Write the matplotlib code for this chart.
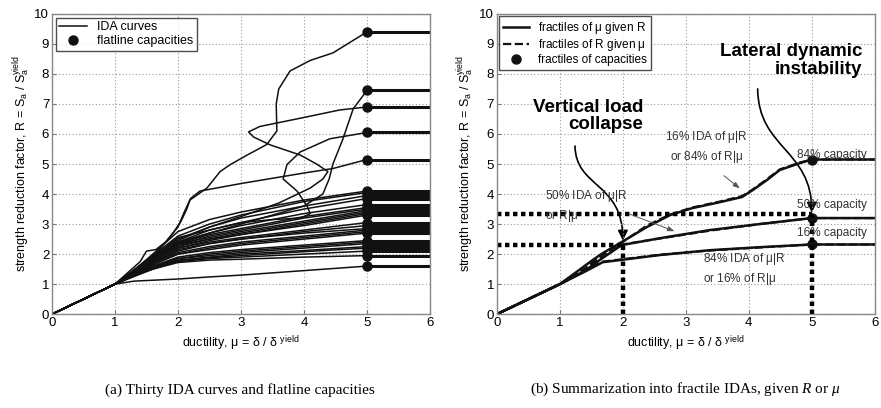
import matplotlib.pyplot as plt
from matplotlib.path import Path
from matplotlib.patches import FancyArrowPatch

plt.rcParams['font.family'] = ['Liberation Sans', 'DejaVu Sans']
plt.rcParams['mathtext.fontset'] = 'custom'
plt.rcParams['mathtext.rm'] = 'Liberation Sans'
plt.rcParams['mathtext.it'] = 'Liberation Serif:italic'

# ---- left panel data: thirty IDA curves (mu, R) ----
mu_grid = [0, 1, 1.3, 1.6, 2.0, 2.5, 3.0, 4.0, 5.0]
bundle_R = [
    [0, 1, 1.45, 2.00, 2.75, 3.15, 3.40, 3.80, 4.10],
    [0, 1, 1.45, 1.95, 2.60, 3.00, 3.30, 3.75, 4.05],
    [0, 1, 1.40, 1.90, 2.50, 2.90, 3.20, 3.60, 3.95],
    [0, 1, 1.40, 1.90, 2.55, 2.80, 3.05, 3.50, 3.85],
    [0, 1, 1.40, 1.85, 2.40, 2.70, 2.95, 3.35, 3.65],
    [0, 1, 1.40, 1.85, 2.35, 2.65, 2.85, 3.25, 3.55],
    [0, 1, 1.38, 1.80, 2.30, 2.60, 2.80, 3.20, 3.50],
    [0, 1, 1.38, 1.85, 2.35, 2.55, 2.75, 3.10, 3.45],
    [0, 1, 1.38, 1.80, 2.25, 2.50, 2.70, 3.05, 3.40],
    [0, 1, 1.35, 1.75, 2.20, 2.45, 2.65, 3.00, 3.35],
    [0, 1, 1.35, 1.80, 2.30, 2.50, 2.65, 2.95, 3.30],
    [0, 1, 1.35, 1.75, 2.20, 2.40, 2.55, 2.80, 3.05],
    [0, 1, 1.35, 1.70, 2.10, 2.35, 2.50, 2.75, 2.95],
    [0, 1, 1.33, 1.70, 2.15, 2.35, 2.50, 2.70, 2.85],
    [0, 1, 1.33, 1.70, 2.05, 2.25, 2.40, 2.60, 2.80],
    [0, 1, 1.33, 1.65, 2.00, 2.20, 2.35, 2.55, 2.75],
    [0, 1, 1.30, 1.65, 2.00, 2.15, 2.30, 2.50, 2.70],
    [0, 1, 1.30, 1.60, 1.90, 2.05, 2.15, 2.30, 2.45],
    [0, 1, 1.30, 1.60, 1.85, 2.00, 2.10, 2.25, 2.40],
    [0, 1, 1.30, 1.55, 1.85, 1.95, 2.05, 2.20, 2.35],
    [0, 1, 1.28, 1.55, 1.80, 1.90, 2.00, 2.12, 2.25],
    [0, 1, 1.28, 1.55, 1.78, 1.88, 1.95, 2.08, 2.20],
    [0, 1, 1.28, 1.50, 1.75, 1.85, 1.90, 2.00, 2.10],
    [0, 1, 1.25, 1.50, 1.72, 1.80, 1.83, 1.90, 1.95],
    [0, 1, 1.10, 1.13, 1.17, 1.24, 1.30, 1.45, 1.60],
]

# curves that wander back (softening / hardening)
wiggly_mu = [
    [0, 1, 1.5, 1.87, 2.05, 2.14, 2.19, 2.46, 2.67, 2.83, 3.1, 3.41, 3.57, 3.56, 3.6, 3.78, 4.1, 4.46, 5.0],
    [0, 1, 1.5, 2.0, 2.5, 3.0, 3.5, 4.0, 4.3, 4.4, 4.46, 4.62, 4.78, 5.0],
    [0, 1, 1.5, 2.0, 2.5, 3.0, 3.6, 4.1, 4.3, 4.38, 4.2, 3.94, 3.46, 3.2, 3.12, 3.3, 4.0, 4.57, 5.0],
    [0, 1, 1.5, 2.0, 2.5, 3.0, 3.5, 3.95, 4.1, 4.05, 3.89, 3.67, 3.73, 3.94, 4.41, 5.0],
    [0, 1, 1.4, 1.5, 1.65, 1.8, 2.0, 2.1, 2.2, 2.35, 3.0, 4.0, 4.46, 5.0],
]
wiggly_R = [
    [0, 1, 1.7, 2.54, 3.1, 3.5, 3.8, 4.2, 4.75, 4.98, 5.3, 5.65, 6.1, 7.0, 7.5, 8.1, 8.45, 8.7, 9.4],
    [0, 1, 1.7, 2.35, 2.7, 3.0, 3.3, 3.6, 4.0, 4.5, 5.0, 5.84, 6.83, 7.45],
    [0, 1, 1.8, 2.45, 2.9, 3.25, 3.7, 4.2, 4.5, 4.75, 5.0, 5.3, 5.64, 5.9, 6.07, 6.25, 6.55, 6.8, 6.9],
    [0, 1, 1.75, 2.4, 2.8, 3.05, 3.15, 3.2, 3.35, 3.6, 4.1, 4.5, 4.98, 5.4, 5.84, 6.05],
    [0, 1, 1.75, 2.1, 2.15, 2.4, 2.9, 3.4, 3.85, 4.1, 4.35, 4.7, 4.85, 5.15],
]

# ---- right panel data: fractile IDAs ----
frac16_mu = [0, 1, 1.52, 1.68, 1.98, 2.38, 2.75, 3.1, 3.54, 3.89, 4.06, 4.29, 4.49, 4.81, 5.0, 6.0]
frac16_R = [0, 1, 1.8, 2.03, 2.4, 2.9, 3.3, 3.53, 3.73, 3.9, 4.13, 4.47, 4.8, 5.03, 5.15, 5.15]
frac50_mu = [0, 1, 1.4, 1.63, 1.98, 2.59, 3.38, 4.17, 5.0, 6.0]
frac50_R = [0, 1, 1.45, 1.8, 2.3, 2.53, 2.8, 3.0, 3.2, 3.2]
frac84_mu = [0, 1, 1.4, 1.68, 2.59, 3.38, 4.17, 5.0, 6.0]
frac84_R = [0, 1, 1.42, 1.73, 1.97, 2.13, 2.23, 2.32, 2.32]
# fractiles of R given mu (nearly on top of the above)
rfrac16_R = [0, 1, 1.68, 1.95, 2.38, 2.95, 3.32, 3.55, 3.75, 3.93, 4.15, 4.5, 4.82, 5.05, 5.15, 5.15]
rfrac50_R = [0, 1, 1.5, 1.95, 2.32, 2.52, 2.78, 3.0, 3.2, 3.2]
rfrac84_R = [0, 1, 1.45, 1.75, 1.98, 2.12, 2.22, 2.32, 2.32]
cap_mu = [5, 5, 5]
cap_R = [5.15, 3.2, 2.32]

fig = plt.figure(figsize=(8.81, 4.08), dpi=100)
ax1 = fig.add_axes([0.059, 0.230, 0.429, 0.736])
ax2 = fig.add_axes([0.564, 0.230, 0.429, 0.736])

ylab = r'strength reduction factor, R = S$_\mathregular{a}$ / S$_\mathregular{a}^\mathregular{yield}$'
xlab = r'ductility, $\mathregular{\mu}$ = $\mathregular{\delta}$ / $\mathregular{\delta}$ $^\mathregular{yield}$'

for ax in (ax1, ax2):
    ax.set_xlim(0, 6)
    ax.set_ylim(0, 10)
    ax.set_xticks(range(0, 7))
    ax.set_yticks(range(0, 11))
    ax.grid(True, color='#999999', linestyle=(0, (1, 2)), linewidth=0.8)
    ax.tick_params(direction='in', length=3, labelsize=9.5, color='#777777', pad=2)
    for s in ax.spines.values():
        s.set_color('#888888')
        s.set_linewidth(1.0)
    ax.set_xlabel(xlab, fontsize=9, labelpad=3)
    ax.set_ylabel(ylab, fontsize=9, labelpad=2)

# left panel
for i, R in enumerate(bundle_R):
    ax1.plot(mu_grid, R, color='#111111', lw=1.1, label='IDA curves' if i == 0 else None)
    ax1.plot([5, 6], [R[-1], R[-1]], color='#111111', lw=2.2)
for m, R in zip(wiggly_mu, wiggly_R):
    ax1.plot(m, R, color='#111111', lw=1.1)
    ax1.plot([5, 6], [R[-1], R[-1]], color='#111111', lw=2.2)
caps = [R[-1] for R in bundle_R] + [R[-1] for R in wiggly_R]
ax1.plot([5] * len(caps), caps, 'o', color='#111111', ms=6.5, ls='none', label='flatline capacities')
ax1.legend(loc='upper left', fontsize=9, fancybox=False, edgecolor='#222222',
           borderaxespad=0.3, handlelength=2.2, labelspacing=0.15, borderpad=0.3)

# right panel
ax2.plot(frac16_mu, frac16_R, color='#111111', lw=1.8, label=r'fractiles of $\mathregular{\mu}$ given R')
ax2.plot(frac16_mu, rfrac16_R, color='#111111', lw=1.6, ls='--', label=r'fractiles of R given $\mathregular{\mu}$')
ax2.plot(frac50_mu, frac50_R, color='#111111', lw=1.8)
ax2.plot(frac50_mu, rfrac50_R, color='#111111', lw=1.6, ls='--')
ax2.plot(frac84_mu, frac84_R, color='#111111', lw=1.8)
ax2.plot(frac84_mu, rfrac84_R, color='#111111', lw=1.6, ls='--')
ax2.plot(cap_mu, cap_R, 'o', color='#111111', ms=6.5, ls='none', label='fractiles of capacities')
ax2.legend(loc='upper left', fontsize=8.5, fancybox=False, edgecolor='#222222',
           borderaxespad=0.2, handlelength=2.2, labelspacing=0.1, borderpad=0.3)

dot = (0, (1, 0.8))
ax2.plot([0, 5], [3.35, 3.35], color='black', lw=3.2, ls=dot)
ax2.plot([0, 2], [2.3, 2.3], color='black', lw=3.2, ls=dot)
ax2.plot([2, 2], [0, 2.3], color='black', lw=3.2, ls=dot)
ax2.plot([5, 5], [0, 3.3], color='black', lw=3.2, ls=dot)

ax2.text(2.32, 6.6, 'Vertical load\ncollapse', ha='right', va='center', multialignment='right',
         fontsize=13.5, fontweight='bold', linespacing=1.05)
ax2.text(5.8, 8.45, 'Lateral dynamic\ninstability', ha='right', va='center', multialignment='right',
         fontsize=13.5, fontweight='bold', linespacing=1.05)

curve = Path([(1.24, 5.6), (1.25, 4.2), (2.0, 4.4), (2.0, 2.45)],
             [Path.MOVETO, Path.CURVE4, Path.CURVE4, Path.CURVE4])
ax2.add_patch(FancyArrowPatch(path=curve, arrowstyle='-|>,head_length=6,head_width=3',
                              color='black', lw=1.2))
curve = Path([(4.14, 7.5), (4.15, 5.5), (5.0, 5.5), (5.0, 3.38)],
             [Path.MOVETO, Path.CURVE4, Path.CURVE4, Path.CURVE4])
ax2.add_patch(FancyArrowPatch(path=curve, arrowstyle='-|>,head_length=6,head_width=3',
                              color='black', lw=1.2))

fs = 8.5
gray = '#555555'
ax2.text(3.32, 5.57, '16% IDA of $\\mathregular{\\mu}$|R\nor 84% of R|$\\mathregular{\\mu}$',
         ha='center', va='center', fontsize=fs, color='#333333', linespacing=1.3)
ax2.annotate('', xy=(3.89, 4.13), xytext=(3.57, 4.67),
             arrowprops=dict(arrowstyle='-|>,head_length=0.4,head_width=0.15', color=gray, lw=0.7))
ax2.text(0.76, 3.6, '50% IDA of $\\mathregular{\\mu}$|R\nor R|$\\mathregular{\\mu}$',
         ha='left', va='center', fontsize=fs, color='#333333', linespacing=1.3)
ax2.annotate('', xy=(2.86, 2.73), xytext=(2.06, 3.37),
             arrowprops=dict(arrowstyle='-|>,head_length=0.4,head_width=0.15', color=gray, lw=0.7))
ax2.text(3.27, 1.5, '84% IDA of $\\mathregular{\\mu}$|R\nor 16% of R|$\\mathregular{\\mu}$',
         ha='left', va='center', fontsize=fs, color='#333333', linespacing=1.3)
ax2.text(5.32, 5.3, '84% capacity', ha='center', va='center', fontsize=fs, color='#333333')
ax2.text(5.32, 3.63, '50% capacity', ha='center', va='center', fontsize=fs, color='#333333')
ax2.text(5.32, 2.7, '16% capacity', ha='center', va='center', fontsize=fs, color='#333333')

fig.text(0.272, 0.045, '(a) Thirty IDA curves and flatline capacities', ha='center', va='center',
         fontsize=11, family='Liberation Serif')
fig.text(0.778, 0.045, '(b) Summarization into fractile IDAs, given $\\mathit{R}$ or $\\mathit{\\mu}$',
         ha='center', va='center', fontsize=11, family='Liberation Serif')

fig.savefig('out.png', dpi=100)
